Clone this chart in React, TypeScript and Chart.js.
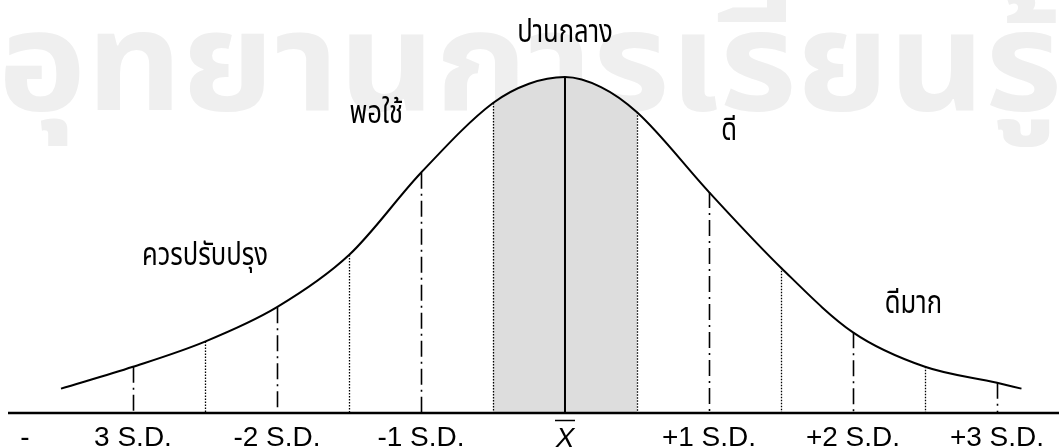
import React, { useEffect, useRef } from "react";
import { Chart, registerables } from "chart.js";

Chart.register(...registerables);

// Curve: x in S.D. units from the mean, y = relative height of the curve
const curveSd = [-3.5, -3.0, -2.5, -2.0, -1.5, -1.0, -0.5, -0.25, 0, 0.25, 0.5, 1.0, 1.5, 2.0, 2.5, 3.0, 3.17];
const curveHeight = [2.9, 5.5, 8.5, 12.6, 18.8, 28.6, 36.9, 39.2, 40.0, 38.8, 35.8, 26.3, 17.3, 9.6, 5.5, 3.6, 2.9];

// Vertical guide lines
const sdMarks = [-3, -2, -1, 1, 2, 3];
const halfSdMarks = [-2.5, -1.5, -0.5, 0.5, 1.5, 2.5];
const meanMark = 0;
const shadedRange = [-0.5, 0.5];

// Axis tick labels
const tickValues = [-3.75, -3, -2, -1, 0, 1, 2, 3];
const tickLabels = ["-", "3 S.D.", "-2 S.D.", "-1 S.D.", "X", "+1 S.D.", "+2 S.D.", "+3 S.D."];

// Zone labels (Thai)
const zoneLabels = ["ควรปรับปรุง", "พอใช้", "ปานกลาง", "ดี", "ดีมาก"];
const zoneLabelSd = [-2.5, -1.31, 0, 1.14, 2.42];
const zoneLabelY = [17.6, 34.5, 44.2, 32.5, 11.9];

const watermarkText = "อุทยานการเรียนรู้";

const X_MIN = -3.9236;
const X_MAX = 3.4306;
const Y_MIN = -4.048;
const Y_MAX = 49.167;

const THAI_FONT = '"Noto Sans Thai", "Noto Sans Thai Looped", Loma, Garuda, Waree, Norasi, Kinnari, "Tlwg Typo", "DejaVu Sans", sans-serif';

const overlayPlugin = {
  id: "overlay",
  beforeDraw(chart: any) {
    const ctx = chart.ctx;
    ctx.save();
    ctx.fillStyle = "#ffffff";
    ctx.fillRect(0, 0, chart.width, chart.height);
    // watermark
    ctx.font = `bold 138px ${THAI_FONT}`;
    ctx.fillStyle = "#efefef";
    ctx.textAlign = "left";
    ctx.textBaseline = "alphabetic";
    const w = ctx.measureText(watermarkText).width;
    const sx = 1064 / w;
    ctx.translate(-2, 110);
    ctx.scale(sx, 1);
    ctx.fillText(watermarkText, 0, 0);
    ctx.restore();
  },
  afterDatasetsDraw(chart: any) {
    const ctx = chart.ctx;
    const xs = chart.scales.x;
    const ys = chart.scales.y;
    const meta = chart.getDatasetMeta(0);
    const y0 = ys.getPixelForValue(0);
    const topAt = (sd: number) => {
      const i = curveSd.indexOf(sd);
      return meta.data[i].y;
    };
    ctx.save();
    ctx.strokeStyle = "#000";
    // dash-dot lines at whole S.D.
    ctx.lineWidth = 1.6;
    ctx.setLineDash([16, 5, 2, 5]);
    for (const s of sdMarks) {
      const x = Math.round(xs.getPixelForValue(s)) + 0.5;
      ctx.beginPath();
      ctx.moveTo(x, topAt(s));
      ctx.lineTo(x, y0);
      ctx.stroke();
    }
    // dotted lines at half S.D.
    ctx.lineWidth = 1.3;
    ctx.setLineDash([1.5, 1.5]);
    for (const s of halfSdMarks) {
      const x = Math.round(xs.getPixelForValue(s)) + 0.5;
      ctx.beginPath();
      ctx.moveTo(x, topAt(s));
      ctx.lineTo(x, y0);
      ctx.stroke();
    }
    // mean line
    ctx.setLineDash([]);
    ctx.lineWidth = 2;
    {
      const x = xs.getPixelForValue(meanMark);
      ctx.beginPath();
      ctx.moveTo(x, topAt(meanMark));
      ctx.lineTo(x, y0);
      ctx.stroke();
    }
    // base axis
    ctx.lineWidth = 2.4;
    ctx.beginPath();
    ctx.moveTo(8, y0);
    ctx.lineTo(chart.width, y0);
    ctx.stroke();

    // tick labels
    ctx.fillStyle = "#000";
    ctx.textAlign = "center";
    ctx.textBaseline = "alphabetic";
    tickLabels.forEach((t, i) => {
      const x = xs.getPixelForValue(tickValues[i]);
      if (t === "X") {
        ctx.font = 'italic 28px "Liberation Sans", Arial, sans-serif';
        ctx.fillText(t, x, y0 + 34);
        ctx.lineWidth = 1.5;
        ctx.beginPath();
        ctx.moveTo(x - 10, y0 + 7.5);
        ctx.lineTo(x + 10, y0 + 7.5);
        ctx.stroke();
      } else {
        ctx.font = '28px "Liberation Sans", Arial, sans-serif';
        ctx.fillText(t, x, y0 + 33);
      }
    });

    // zone labels
    ctx.font = `32px ${THAI_FONT}`;
    zoneLabels.forEach((t, i) => {
      const x = xs.getPixelForValue(zoneLabelSd[i]);
      const y = ys.getPixelForValue(zoneLabelY[i]);
      ctx.save();
      ctx.translate(x, y);
      ctx.scale(0.8, 1);
      ctx.fillText(t, 0, 0);
      ctx.restore();
    });
    ctx.restore();
  },
};

export default function App() {
  const ref = useRef<HTMLCanvasElement | null>(null);
  useEffect(() => {
    if (!ref.current) return;
    const chart = new Chart(ref.current, {
      type: "line",
      data: {
        datasets: [
          {
            data: curveSd.map((x, i) => ({ x, y: curveHeight[i] })),
            borderColor: "#000",
            borderWidth: 2,
            pointRadius: 0,
            cubicInterpolationMode: "monotone",
            fill: "origin",
            backgroundColor: (c: any) => {
              const chart = c.chart;
              const xs = chart.scales?.x;
              if (!xs || !chart.chartArea) return "rgba(0,0,0,0)";
              const W = chart.width;
              const a = xs.getPixelForValue(shadedRange[0]) / W;
              const b = xs.getPixelForValue(shadedRange[1]) / W;
              const g = chart.ctx.createLinearGradient(0, 0, W, 0);
              g.addColorStop(0, "rgba(221,221,221,0)");
              g.addColorStop(a, "rgba(221,221,221,0)");
              g.addColorStop(a, "rgba(221,221,221,1)");
              g.addColorStop(b, "rgba(221,221,221,1)");
              g.addColorStop(b, "rgba(221,221,221,0)");
              g.addColorStop(1, "rgba(221,221,221,0)");
              return g;
            },
          } as any,
        ],
      },
      options: {
        animation: false,
        responsive: true,
        maintainAspectRatio: false,
        layout: { padding: 0 },
        events: [],
        scales: {
          x: { type: "linear", min: X_MIN, max: X_MAX, display: false },
          y: { type: "linear", min: Y_MIN, max: Y_MAX, display: false },
        },
        plugins: { legend: { display: false }, tooltip: { enabled: false } },
      },
      plugins: [overlayPlugin],
    });
    return () => chart.destroy();
  }, []);
  return (
    <div style={{ position: "absolute", left: 0, top: 0, width: 1059, height: 447 }}>
      <canvas ref={ref} />
    </div>
  );
}
